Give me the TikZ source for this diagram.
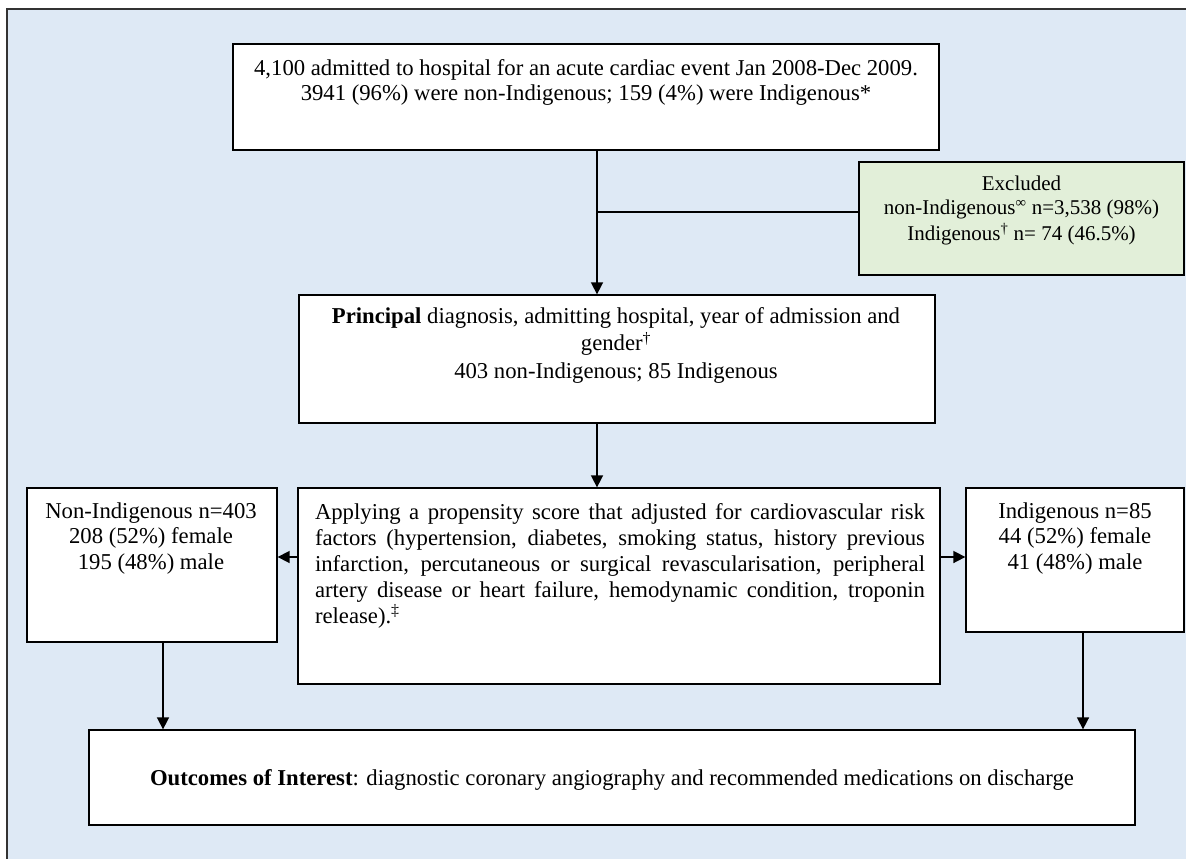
\documentclass[tikz,border=0pt]{standalone}
\usepackage{fontspec}
\setmainfont{Liberation Serif}
\usetikzlibrary{arrows.meta}
\definecolor{bgblue}{RGB}{222,233,245}
\definecolor{exgreen}{RGB}{226,239,217}
\begin{document}
\begin{tikzpicture}[x=1pt,y=-1pt,
  box/.style={draw=black,line width=1.3pt,fill=white,inner sep=0pt,rectangle},
  exbox/.style={draw=black,line width=2.2pt,fill=exgreen,inner sep=0pt,rectangle},
  txt/.style={inner sep=0pt,anchor=north,align=center,font=\fontsize{22.7}{25.5}\selectfont},
  conn/.style={line width=1.6pt,draw=black},
  arr/.style={conn,-{Triangle[length=12pt,width=12pt]}}]
\useasboundingbox (0,0) rectangle (1186,859);
% background and frame
\fill[bgblue] (7,9) rectangle (1186,859);
\draw[line width=2pt,draw=black!80] (7,859) -- (7,9) -- (1186,9);
% boxes
\node[box,minimum width=706pt,minimum height=106pt] (top) at (586,97) {};
\node[exbox,minimum width=325pt,minimum height=113pt] (excl) at (1021.5,218.5) {};
\node[box,minimum width=636pt,minimum height=128pt] (prin) at (617,359) {};
\node[box,minimum width=642pt,minimum height=196pt] (mid) at (619,586) {};
\node[box,minimum width=250pt,minimum height=154pt] (left) at (152,565) {};
\node[box,minimum width=218pt,minimum height=144pt] (right) at (1075,560) {};
\node[box,minimum width=1046pt,minimum height=95pt] (bot) at (612,777.5) {};
% texts
\node[txt,font=\fontsize{22.7}{25}\selectfont] (topT) at (586,57.5)
  {\strut 4,100 admitted to hospital for an acute cardiac event Jan 2008-Dec 2009.\\
   \strut 3941 (96\%) were non-Indigenous; 159 (4\%) were Indigenous*};
\node[txt,font=\fontsize{21}{24.5}\selectfont] (exclT) at (1021.5,172.85)
  {\strut Excluded\\
   \strut non-Indigenous\textsuperscript{∞} n=3,538 (98\%)\\
   \strut Indigenous\textsuperscript{†} n= 74 (46.5\%)};
\node[txt,font=\fontsize{22.7}{27.5}\selectfont] (prinT) at (616,303.75)
  {\strut\textbf{Principal} diagnosis, admitting hospital, year of admission and\\
   \strut gender\textsuperscript{†}\\
   \strut 403 non-Indigenous; 85 Indigenous};
\node[txt,align=justify,text width=610pt,font=\fontsize{22.7}{26}\selectfont] (midT) at (620,500.8)
  {\strut Applying a propensity score that adjusted for cardiovascular risk\linebreak
   factors (hypertension, diabetes, smoking status, history previous\linebreak
   infarction, percutaneous or surgical revascularisation, peripheral\linebreak
   artery disease or heart failure, hemodynamic condition, troponin\linebreak
   release).\textsuperscript{‡}};
\node[txt] (leftT) at (151,500.15)
  {\strut Non-Indigenous n=403\\ \strut 208 (52\%) female\\ \strut 195 (48\%) male};
\node[txt] (rightT) at (1075,500.15)
  {\strut Indigenous n=85\\ \strut 44 (52\%) female\\ \strut 41 (48\%) male};
\node[txt,anchor=base] (botT) at (612,785)
  {\textbf{Outcomes of Interest}: diagnostic coronary angiography and recommended medications on discharge};
% connectors
\coordinate (j) at (597,212);
\coordinate (ly) at (0,557);
\draw[arr] (top.south -| j) -- (prin.north -| j);
\draw[conn] (j) -- (j -| excl.west);
\draw[arr] (prin.south -| j) -- (mid.north -| j);
\draw[arr] (mid.west |- ly) -- (left.east |- ly);
\draw[arr] (mid.east |- ly) -- (right.west |- ly);
\coordinate (lx) at (163,0);
\coordinate (rx) at (1083,0);
\draw[arr] (left.south -| lx) -- (bot.north -| lx);
\draw[arr] (right.south -| rx) -- (bot.north -| rx);
\end{tikzpicture}
\end{document}
